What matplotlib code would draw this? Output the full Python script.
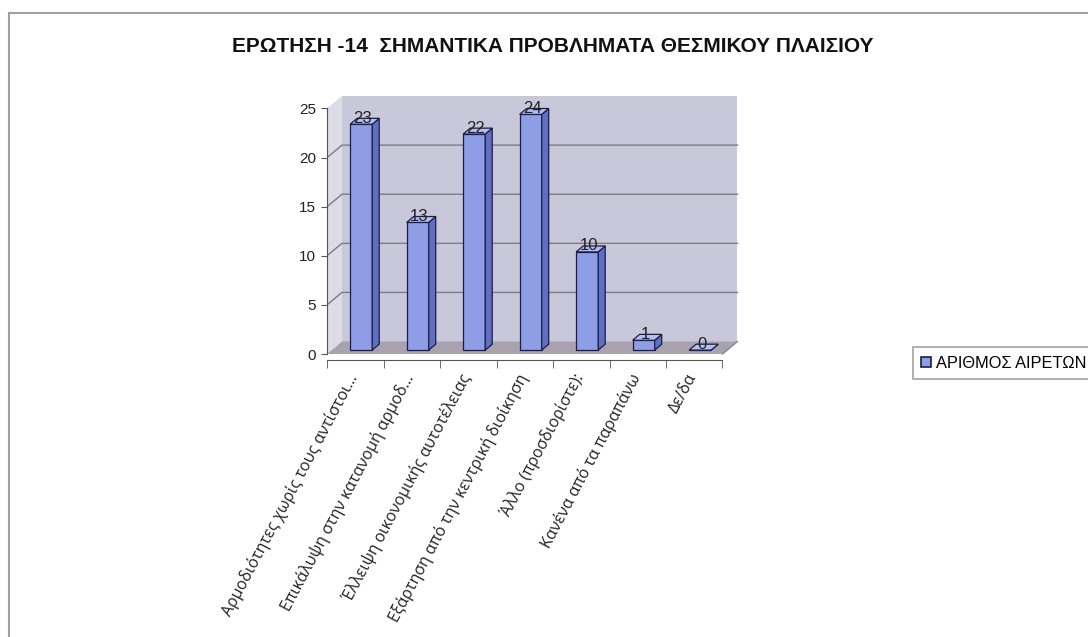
import numpy as np
import matplotlib
matplotlib.use("Agg")
import matplotlib.pyplot as plt
from matplotlib.patches import Polygon, Patch
from matplotlib.lines import Line2D

# data
categories = [
    "Αρμοδιότητες χωρίς τους αντίστοι...",
    "Επικάλυψη στην κατανομή αρμοδ...",
    "Έλλειψη οικονομικής αυτοτέλειας",
    "Εξάρτηση από την κεντρική διοίκηση",
    "Άλλο (προσδιορίστε):",
    "Κανένα από τα παραπάνω",
    "Δε/δα",
]
values = [23, 13, 22, 24, 10, 1, 0]
yticks = [0, 5, 10, 15, 20, 25]
series_name = "ΑΡΙΘΜΟΣ ΑΙΡΕΤΩΝ"
title = "ΕΡΩΤΗΣΗ -14  ΣΗΜΑΝΤΙΚΑ ΠΡΟΒΛΗΜΑΤΑ ΘΕΣΜΙΚΟΥ ΠΛΑΙΣΙΟΥ"

# colours
front_c = "#8d9de6"
side_c = "#5f6fc4"
top_c = "#b3bff2"
edge_c = "#1c1c44"
wall_c = "#c9c8db"
side_wall_c = "#dcdbe6"
floor_c = "#a8a1b0"
grid_c = "#7c7c84"

W, H = 1088, 637
fig = plt.figure(figsize=(W / 100, H / 100), dpi=100)
fig.patch.set_facecolor("white")

# axes placed so that one category = 56.5 px and one unit = 9.82 px
ux, uy = 56.5, 9.82
x_lo, x_hi = -0.5, 7.0
y_lo, y_hi = -0.6, 26.6
left_px, zero_px = 327, 354
ax = fig.add_axes([left_px / W,
                   (H - zero_px + y_lo * uy) / H,
                   (x_hi - x_lo) * ux / W,
                   (y_hi - y_lo) * uy / H])
ax.set_xlim(x_lo, x_hi)
ax.set_ylim(y_lo, y_hi)
ax.patch.set_alpha(0)

n = len(categories)
dxw, dyw = 0.265, 1.27   # depth of the walls
top_v = yticks[-1]

# side wall, back wall and floor
ax.add_patch(Polygon([(-0.5, 0), (-0.5 + dxw, dyw), (-0.5 + dxw, top_v + dyw), (-0.5, top_v)],
                     closed=True, fc=side_wall_c, ec="none", zorder=0))
ax.add_patch(Polygon([(-0.5 + dxw, dyw), (n - 0.5 + dxw, dyw), (n - 0.5 + dxw, top_v + dyw),
                      (-0.5 + dxw, top_v + dyw)], closed=True, fc=wall_c, ec="none", zorder=0))
ax.add_patch(Polygon([(-0.5, 0), (n - 0.5, 0), (n - 0.5 + dxw, dyw), (-0.5 + dxw, dyw)],
                     closed=True, fc=floor_c, ec="none", zorder=1))

for v in yticks[1:-1]:
    ax.plot([-0.5, -0.5 + dxw, n - 0.5 + dxw], [v, v + dyw, v + dyw], color=grid_c, lw=1, zorder=1)
ax.plot([n - 0.5, n - 0.5 + dxw], [0, dyw], color="#8a8690", lw=1, zorder=1)

# 3d-looking bars
bw, bdx, bdy = 0.39, 0.124, 0.6
base = 0.4
for i, v in enumerate(values):
    x0 = i - 0.09
    y0, y1 = base, base + v
    ax.add_patch(Polygon([(x0, y0), (x0 + bw, y0), (x0 + bw, y1), (x0, y1)],
                         closed=True, fc=front_c, ec=edge_c, lw=0.9, zorder=3))
    ax.add_patch(Polygon([(x0 + bw, y0), (x0 + bw + bdx, y0 + bdy), (x0 + bw + bdx, y1 + bdy), (x0 + bw, y1)],
                         closed=True, fc=side_c, ec=edge_c, lw=0.9, zorder=3))
    ax.add_patch(Polygon([(x0, y1), (x0 + bw, y1), (x0 + bw + bdx, y1 + bdy), (x0 + bdx, y1 + bdy)],
                         closed=True, fc=top_c, ec=edge_c, lw=0.9, zorder=3))
    ax.text(i + 0.13, v + 1.0, str(v), ha="center", va="center", fontsize=12,
            family="Liberation Sans", color="#222222", zorder=5)

# axes lines and ticks
for s in ["top", "right"]:
    ax.spines[s].set_visible(False)
ax.spines["left"].set_bounds(0, top_v)
ax.spines["bottom"].set_bounds(-0.5, n - 0.5)
ax.spines["left"].set_color("#555555")
ax.spines["bottom"].set_color("#555555")
ax.spines["left"].set_zorder(4)
ax.spines["bottom"].set_zorder(4)

ax.set_yticks(yticks)
ax.set_yticklabels([str(t) for t in yticks], family="Liberation Sans", fontsize=11, color="#222222")
ax.tick_params(axis="y", length=4, color="#555555", pad=4)

ax.set_xticks(np.arange(n) - 0.15)
ax.set_xticklabels(categories, rotation=62, ha="right", rotation_mode="anchor",
                   family=["Open Sans", "DejaVu Sans"], fontsize=11.5, color="#222222")
ax.set_xticks(np.arange(n + 1) - 0.5, minor=True)
ax.tick_params(axis="x", which="major", length=0, pad=8)
ax.tick_params(axis="x", which="minor", length=6, color="#555555")

# title
fig.text(553 / W, 1 - 47 / H, title, ha="center", va="center", fontsize=15,
         fontweight="bold", family="Liberation Sans", color="#111111")

# legend, its box runs into the right edge like the scan
leg = fig.legend(handles=[Patch(fc=front_c, ec=edge_c, lw=1.2, label=series_name)],
                 loc="center left", bbox_to_anchor=(905 / W, 1 - 363 / H),
                 prop={"family": "Liberation Sans", "size": 11.8},
                 handlelength=0.6, handleheight=0.6, handletextpad=0.3,
                 frameon=True, fancybox=False, borderpad=0.5)
leg.get_frame().set_edgecolor("#8a8a8a")
leg.get_frame().set_linewidth(1.2)

# outer frame of the scanned page
fig.add_artist(Line2D([10 / W, 1], [1 - 13 / H, 1 - 13 / H], color="#a0a0a0", lw=1.5))
fig.add_artist(Line2D([9 / W, 9 / W], [0, 1 - 13 / H], color="#a0a0a0", lw=1.5))

fig.savefig("out.png", dpi=100)
